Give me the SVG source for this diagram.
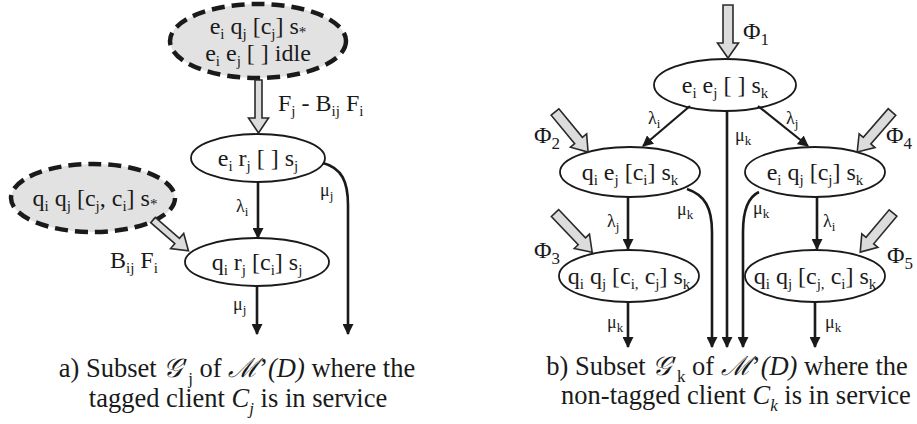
<svg xmlns="http://www.w3.org/2000/svg" width="917" height="424" viewBox="0 0 917 424" font-family="Liberation Serif">
  <style>
    text { font-family: "Liberation Serif", "Times New Roman", serif; fill: #1a1a1a; }
    .nt { font-size: 24px; text-anchor: middle; }
    .lb { font-size: 24px; }
    .gr { font-size: 18px; }
    .cap { font-size: 26.5px; text-anchor: middle; }
    .s { font-size: 15px; baseline-shift: -5px; }
    .gs { font-size: 13px; baseline-shift: -4px; }
    .ps { font-size: 17px; baseline-shift: -6px; }
    .cs { font-size: 17px; baseline-shift: -7px; }
    .st { font-size: 15px; baseline-shift: -3px; }
    .it { font-style: italic; }
    .node { fill: #fff; stroke: #1a1a1a; stroke-width: 1.8; }
    .dash { fill: #e2e2e2; stroke: #1a1a1a; stroke-width: 4.5; stroke-dasharray: 13 7; }
    .edge { fill: none; stroke: #1a1a1a; stroke-width: 2.6; marker-end: url(#head); }
    .thin { fill: none; stroke: #1a1a1a; stroke-width: 2.2; marker-end: url(#head); }
    .flow { fill: #dcdcdc; stroke: #2a2a2a; stroke-width: 1.6; stroke-linejoin: miter; }
  </style>
  <defs>
    <marker id="head" viewBox="0 0 10 10" refX="9" refY="5" markerWidth="11" markerHeight="11" markerUnits="userSpaceOnUse" orient="auto">
      <path d="M0,0 L10,5 L0,10 z" fill="#1a1a1a"/>
    </marker>
  </defs>

  <!-- ===== panel a: tagged client in service ===== -->
  <g id="a-idle">
    <ellipse class="dash" cx="258" cy="41" rx="88" ry="37"/>
    <text class="nt" x="258" y="34">e<tspan class="s">i</tspan> q<tspan class="s">j</tspan> [c<tspan class="s">j</tspan>] s<tspan class="st">*</tspan></text>
    <text class="nt" x="258" y="61">e<tspan class="s">i</tspan> e<tspan class="s">j</tspan> [ ] idle</text>
  </g>
  <g id="a-qq">
    <ellipse class="dash" cx="93" cy="198" rx="82" ry="34"/>
    <text class="nt" x="95" y="206">q<tspan class="s">i</tspan> q<tspan class="s">j</tspan> [c<tspan class="s">j</tspan>, c<tspan class="s">i</tspan>] s<tspan class="st">*</tspan></text>
  </g>
  <g id="a-er">
    <ellipse class="node" cx="258" cy="158" rx="67" ry="24"/>
    <text class="nt" x="258" y="166">e<tspan class="s">i</tspan> r<tspan class="s">j</tspan> [ ] s<tspan class="s">j</tspan></text>
  </g>
  <g id="a-qr">
    <ellipse class="node" cx="257" cy="262" rx="72" ry="24"/>
    <text class="nt" x="257" y="270">q<tspan class="s">i</tspan> r<tspan class="s">j</tspan> [c<tspan class="s">i</tspan>] s<tspan class="s">j</tspan></text>
  </g>

  <g id="a-connectors">
    <!-- incoming flows (broad grey arrows) -->
    <path class="flow" transform="translate(258.5,80) rotate(90)" d="M0,-3.5 H38 V-10 L53,0 L38,10 V3.5 H0 Z"/>
    <text class="lb" x="278" y="111">F<tspan class="s">j</tspan> - B<tspan class="s">ij</tspan> F<tspan class="s">i</tspan></text>
    <path class="flow" transform="translate(153,220) rotate(41)" d="M0,-3.5 H32 V-10 L47,0 L32,10 V3.5 H0 Z"/>
    <text class="lb" x="110" y="268">B<tspan class="s">ij</tspan> F<tspan class="s">i</tspan></text>
    <!-- transitions -->
    <line class="edge" x1="258" y1="182" x2="258" y2="238"/>
    <text class="gr" x="236" y="212">λ<tspan class="gs">i</tspan></text>
    <line class="edge" x1="257" y1="286" x2="257" y2="334"/>
    <text class="gr" x="233" y="310">μ<tspan class="gs">j</tspan></text>
    <path class="edge" d="M323,163 C342,168 348,182 348,205 L348,334"/>
    <text class="gr" x="320" y="196">μ<tspan class="gs">j</tspan></text>
  </g>

  <text class="cap" x="237" y="377">a) Subset <tspan class="it">𝒢</tspan>′<tspan class="cs">j</tspan> of <tspan class="it">ℳ</tspan>’<tspan class="it">(D)</tspan> where the</text>
  <text class="cap" x="238" y="407">tagged client <tspan class="it">C<tspan class="cs">j</tspan></tspan> is in service</text>

  <!-- ===== panel b: non-tagged client in service ===== -->
  <g id="b-ee">
    <ellipse class="node" cx="725" cy="85" rx="71" ry="26"/>
    <text class="nt" x="725" y="93">e<tspan class="s">i</tspan> e<tspan class="s">j</tspan> [ ] s<tspan class="s">k</tspan></text>
  </g>
  <g id="b-qe">
    <ellipse class="node" cx="630" cy="172" rx="70" ry="25"/>
    <text class="nt" x="630" y="180">q<tspan class="s">i</tspan> e<tspan class="s">j</tspan> [c<tspan class="s">i</tspan>] s<tspan class="s">k</tspan></text>
  </g>
  <g id="b-eq">
    <ellipse class="node" cx="815" cy="172" rx="70" ry="25"/>
    <text class="nt" x="815" y="180">e<tspan class="s">i</tspan> q<tspan class="s">j</tspan> [c<tspan class="s">j</tspan>] s<tspan class="s">k</tspan></text>
  </g>
  <g id="b-qq-ij">
    <ellipse class="node" cx="629" cy="276" rx="70" ry="26"/>
    <text class="nt" x="629" y="284">q<tspan class="s">i</tspan> q<tspan class="s">j</tspan> [c<tspan class="s">i,</tspan> c<tspan class="s">j</tspan>] s<tspan class="s">k</tspan></text>
  </g>
  <g id="b-qq-ji">
    <ellipse class="node" cx="815" cy="276" rx="70" ry="26"/>
    <text class="nt" x="815" y="284">q<tspan class="s">i</tspan> q<tspan class="s">j</tspan> [c<tspan class="s">j,</tspan> c<tspan class="s">i</tspan>] s<tspan class="s">k</tspan></text>
  </g>

  <g id="b-connectors">
    <!-- incoming flows Φ1..Φ5 -->
    <path class="flow" transform="translate(728,5) rotate(90)" d="M0,-5 H38 V-10.5 L53,0 L38,10.5 V5 H0 Z"/>
    <text class="lb" x="743" y="39">Φ<tspan class="ps">1</tspan></text>
    <path class="flow" transform="translate(555,112) rotate(50.5)" d="M0,-5 H37 V-10.5 L52,0 L37,10.5 V5 H0 Z"/>
    <text class="lb" x="534" y="143">Φ<tspan class="ps">2</tspan></text>
    <path class="flow" transform="translate(892,112) rotate(131)" d="M0,-5 H38 V-10.5 L53,0 L38,10.5 V5 H0 Z"/>
    <text class="lb" x="886" y="143">Φ<tspan class="ps">4</tspan></text>
    <path class="flow" transform="translate(555,213) rotate(46.5)" d="M0,-5 H39 V-10.5 L54,0 L39,10.5 V5 H0 Z"/>
    <text class="lb" x="534" y="258">Φ<tspan class="ps">3</tspan></text>
    <path class="flow" transform="translate(893,213) rotate(130)" d="M0,-5 H36 V-10.5 L51,0 L36,10.5 V5 H0 Z"/>
    <text class="lb" x="887" y="263">Φ<tspan class="ps">5</tspan></text>
    <!-- transitions from e_i e_j -->
    <line class="thin" x1="690" y1="106" x2="643" y2="146"/>
    <text class="gr" x="648" y="124">λ<tspan class="gs">i</tspan></text>
    <line class="thin" x1="758" y1="106" x2="808" y2="146"/>
    <text class="gr" x="786" y="124">λ<tspan class="gs">j</tspan></text>
    <line class="edge" x1="727" y1="111" x2="727" y2="347"/>
    <text class="gr" x="735" y="141">μ<tspan class="gs">k</tspan></text>
    <!-- transitions from the middle row -->
    <line class="edge" x1="628" y1="197" x2="628" y2="249"/>
    <text class="gr" x="607" y="227">λ<tspan class="gs">j</tspan></text>
    <path class="edge" d="M687,189 C705,195 712,208 712,232 L712,347"/>
    <text class="gr" x="677" y="215">μ<tspan class="gs">k</tspan></text>
    <path class="edge" d="M759,192 C748,197 743,210 743,232 L743,347"/>
    <text class="gr" x="753" y="214">μ<tspan class="gs">k</tspan></text>
    <line class="edge" x1="817" y1="197" x2="817" y2="249"/>
    <text class="gr" x="823" y="227">λ<tspan class="gs">i</tspan></text>
    <!-- transitions from the bottom row -->
    <line class="edge" x1="628" y1="302" x2="628" y2="347"/>
    <text class="gr" x="607" y="328">μ<tspan class="gs">k</tspan></text>
    <line class="edge" x1="815" y1="302" x2="815" y2="347"/>
    <text class="gr" x="825" y="328">μ<tspan class="gs">k</tspan></text>
  </g>

  <text class="cap" x="727" y="375">b) Subset <tspan class="it">𝒢</tspan>′<tspan class="cs">k</tspan> of <tspan class="it">ℳ</tspan>’<tspan class="it">(D)</tspan> where the</text>
  <text class="cap" x="736" y="404">non-tagged client <tspan class="it">C<tspan class="cs">k</tspan></tspan> is in service</text>
</svg>
